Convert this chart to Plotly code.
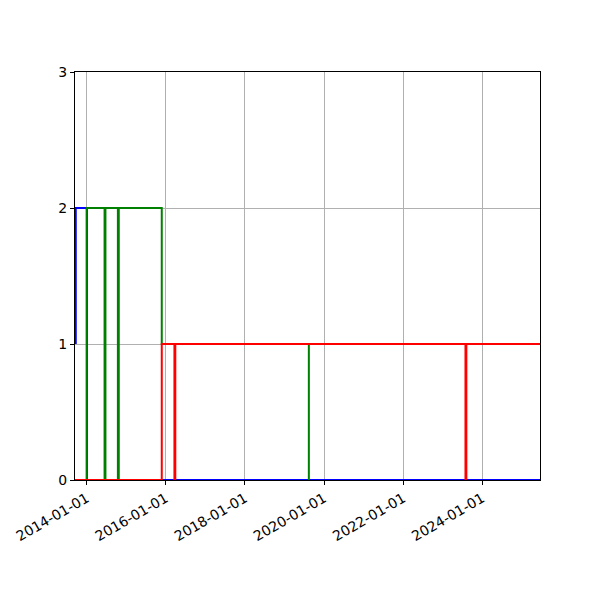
import plotly.graph_objects as go

# step series: each vertex is (date, count), drawn as horizontal-then-vertical steps
blue_dates = ["2013-09-22", "2013-09-22", "2014-01-03", "2025-06-17"]
blue_values = [1, 2, 0, 0]

green_dates = ["2014-01-01", "2014-01-01", "2014-06-15", "2014-06-23",
               "2014-10-16", "2014-10-24", "2015-11-25", "2019-08-14"]
green_values = [0, 2, 0, 2, 0, 2, 1, 0]

red_dates = ["2013-09-15", "2015-11-25", "2016-03-21", "2016-03-29",
             "2023-07-30", "2023-08-07", "2025-06-17"]
red_values = [0, 1, 0, 1, 0, 1, 1]

x_range = ["2013-09-15", "2025-06-17"]
y_ticks = [0, 1, 2, 3]

fig = go.Figure()

# draw order matters: blue, then green, then red on top
for dates, values, color in [
    (blue_dates, blue_values, "#0000ff"),
    (green_dates, green_values, "#008000"),
    (red_dates, red_values, "#ff0000"),
]:
    fig.add_trace(go.Scatter(
        x=dates, y=values,
        mode="lines",
        line=dict(color=color, width=2, shape="hv"),
        showlegend=False,
        hoverinfo="x+y",
    ))

axis_style = dict(
    showline=True, linecolor="black", linewidth=1, mirror=True,
    ticks="outside", ticklen=4, tickcolor="black",
    showgrid=True, gridcolor="#b0b0b0", gridwidth=1,
    zeroline=False, automargin=False,
    tickfont=dict(family="DejaVu Sans", size=14, color="black"),
)

# the page body adds 8px, so margins are trimmed to land the plot box at 75..540 / 72..480
fig.update_layout(
    width=600, height=600,
    margin=dict(l=67, r=68, t=64, b=128),
    plot_bgcolor="white", paper_bgcolor="white",
    xaxis=dict(
        type="date", range=x_range,
        tick0="2014-01-01", dtick="M24", tickformat="%Y-%m-%d",
        tickangle=-30,
        **axis_style,
    ),
    yaxis=dict(
        range=[0, 3], tickvals=y_ticks,
        **axis_style,
    ),
)

fig.write_html("out.html")
